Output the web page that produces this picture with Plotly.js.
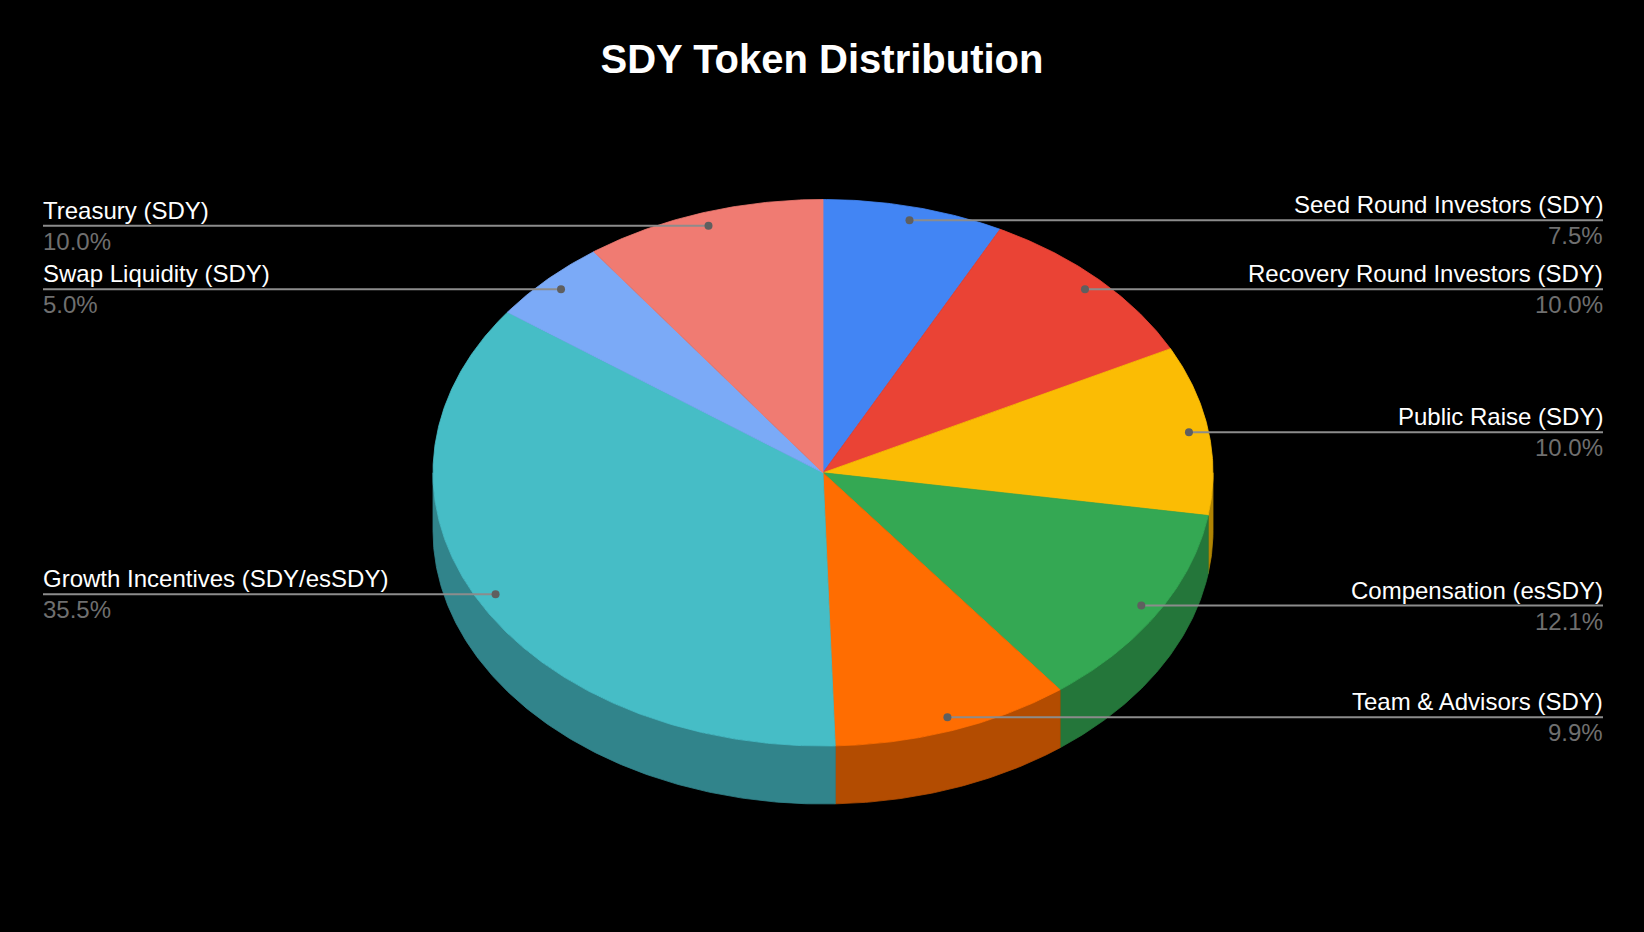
<!DOCTYPE html>
<html>
<head>
<meta charset="utf-8">
<script src="https://cdn.plot.ly/plotly-3.0.1.min.js"></script>
<style>html,body{margin:0;padding:0;background:#000;}#chart{width:1644px;height:932px;}</style>
</head>
<body>
<div id="chart"></div>
<script>
// ---- data ----
const categories = [
  "Seed Round Investors (SDY)",
  "Recovery Round Investors (SDY)",
  "Public Raise (SDY)",
  "Compensation (esSDY)",
  "Team & Advisors (SDY)",
  "Growth Incentives (SDY/esSDY)",
  "Swap Liquidity (SDY)",
  "Treasury (SDY)"
];
const values = [7.5, 10.0, 10.0, 12.1, 9.9, 35.5, 5.0, 10.0];
const topColors  = ["#4285F4", "#EA4335", "#FBBC04", "#34A853", "#FF6D01", "#46BDC6", "#7BAAF7", "#F07B72"];
const sideColors = ["#2E5DAB", "#A42F25", "#B08403", "#24763A", "#B34C01", "#31848B", "#5677AD", "#A8564F"];

// ---- geometry (layout constants, pixel space) ----
const W = 1644, H = 932;
const cx = 823, cy = 472.75, rx = 390, ry = 273.25, depth = 58;
const dotFrac = 0.95;
const leftX = 43, rightX = 1603;

const total = values.reduce((a, b) => a + b, 0);
const rad = d => d * Math.PI / 180;
const px = (th, f) => cx + rx * f * Math.sin(rad(th));
const py = (th, f) => cy - ry * f * Math.cos(rad(th));

function arc(a, b, f, off) {
  const pts = [];
  const n = Math.max(2, Math.ceil((b - a) / 0.5));
  for (let i = 0; i <= n; i++) {
    const t = a + (b - a) * i / n;
    pts.push([px(t, f), py(t, f) + off]);
  }
  return pts;
}

const sideTraces = [];
const topTraces = [];
const annotations = [];
let start = 0;
values.forEach((v, i) => {
  const sweep = v / total * 360;
  const a = start, b = start + sweep;
  // side wall (front half only)
  const sa = Math.max(a, 90), sb = Math.min(b, 270);
  if (sb > sa) {
    const topEdge = arc(sa, sb, 1, 0);
    const botEdge = arc(sa, sb, 1, depth).reverse();
    const poly = topEdge.concat(botEdge);
    poly.push(poly[0]);
    sideTraces.push({
      type: "scatter", mode: "lines", fill: "toself",
      x: poly.map(p => p[0]), y: poly.map(p => p[1]),
      fillcolor: sideColors[i], line: {color: sideColors[i], width: 0.8},
      hoverinfo: "skip", showlegend: false
    });
  }
  // top face
  const poly = [[cx, cy]].concat(arc(a, b, 1, 0));
  poly.push([cx, cy]);
  topTraces.push({
    type: "scatter", mode: "lines", fill: "toself",
    x: poly.map(p => p[0]), y: poly.map(p => p[1]),
    fillcolor: topColors[i], line: {color: topColors[i], width: 0.8},
    hoverinfo: "skip", showlegend: false
  });
  start = b;
});

// leader lines, dots, labels
const lineTraces = [];
const dotX = [], dotY = [];
const font = "Arial, 'Liberation Sans', sans-serif";
start = 0;
values.forEach((v, i) => {
  const sweep = v / total * 360;
  const mid = start + sweep / 2;
  const dx = px(mid, dotFrac), dy = py(mid, dotFrac);
  dotX.push(dx); dotY.push(dy);
  const right = mid < 180;
  const ex = right ? rightX : leftX;
  lineTraces.push({
    type: "scatter", mode: "lines",
    x: [dx, ex], y: [dy, dy],
    line: {color: "#8c8c8c", width: 2},
    hoverinfo: "skip", showlegend: false
  });
  const pct = (v / total * 100).toFixed(1) + "%";
  annotations.push({
    x: ex, y: dy, xref: "x", yref: "y",
    xanchor: right ? "right" : "left", yanchor: "bottom",
    text: categories[i], showarrow: false, yshift: 0, xshift: right ? 2 : -2,
    font: {family: font, size: 24, color: "#ffffff"}
  });
  annotations.push({
    x: ex, y: dy, xref: "x", yref: "y",
    xanchor: right ? "right" : "left", yanchor: "top",
    text: pct, showarrow: false, yshift: 0, xshift: right ? 2 : -2,
    font: {family: font, size: 24, color: "#6f6f6f"}
  });
  start += sweep;
});

const dotTrace = {
  type: "scatter", mode: "markers", x: dotX, y: dotY,
  marker: {size: 8, color: "#5f5f5f"}, hoverinfo: "skip", showlegend: false
};

const data = sideTraces.concat(topTraces, lineTraces, [dotTrace]);

const layout = {
  width: W, height: H,
  paper_bgcolor: "#000000", plot_bgcolor: "#000000",
  margin: {l: 0, r: 0, t: 0, b: 0},
  showlegend: false,
  title: {
    text: "<b>SDY Token Distribution</b>",
    x: 0.5, xanchor: "center", y: 1 - 59 / H, yanchor: "middle",
    font: {family: font, size: 40, color: "#ffffff"}
  },
  xaxis: {range: [0, W], visible: false, fixedrange: true},
  yaxis: {range: [H, 0], visible: false, fixedrange: true},
  annotations: annotations
};

Plotly.newPlot("chart", data, layout, {displayModeBar: false, staticPlot: true});
</script>
</body>
</html>
